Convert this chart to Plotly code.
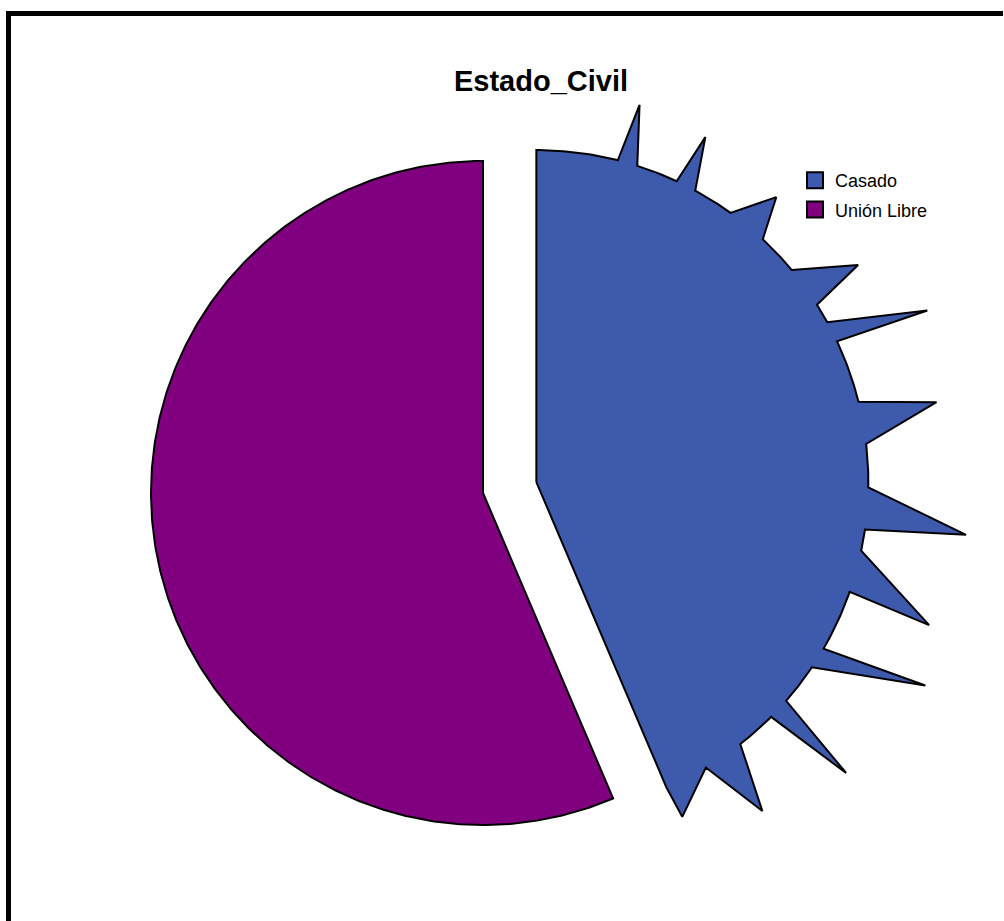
import numpy as np
import plotly.graph_objects as go

# ---- data ----
categories = ["Casado", "Unión Libre"]
counts = [17, 22]
colors = ["#3E5AAC", "#800080"]
title_text = "Estado_Civil"

# ---- style: exploded slice and its jagged edge (decoration) ----
explode = [0.164, 0.0]
# (arc angle before spike, tip angle, tip radius, arc angle after spike) in degrees
spikes = [
    (14.2, 15.3, 1.178, 17.7),
    (25.0, 26.1, 1.157, 28.6),
    (35.8, 40.1, 1.122, 43.0),
    (50.3, 56.0, 1.169, 57.7),
    (61.2, 66.3, 1.286, 64.9),
    (76.0, 78.7, 1.229, 83.4),
    (90.9, 97.0, 1.304, 98.2),
    (101.9, 110.0, 1.259, 109.3),
    (120.1, 117.6, 1.322, 123.9),
    (131.2, 133.2, 1.280, 135.0),
    (142.1, 145.5, 1.202, 149.3),
    (149.3, 156.45, 1.100, None),
]

W, H = 1004, 921
unit = 332.0           # pixels per pie radius
cxp, cyp = 483.0, 493.0  # pixel position of pie centre

total = float(sum(counts))
fracs = [c / total for c in counts]
starts = np.cumsum([0] + fracs[:-1]) * 360.0
ends = np.cumsum(fracs) * 360.0


def pol(cx, cy, ang, r):
    a = np.radians(ang)
    return cx + r * np.sin(a), cy + r * np.cos(a)


def arc(cx, cy, a0, a1, r=1.0):
    n = max(2, int(abs(a1 - a0) / 0.5) + 1)
    angs = np.linspace(a0, a1, n)
    x, y = pol(cx, cy, angs, r)
    return list(x), list(y)


fig = go.Figure()

for i in [1, 0]:
    a0, a1 = starts[i], ends[i]
    mid = 0.5 * (a0 + a1)
    cx, cy = pol(0.0, 0.0, mid, explode[i])
    xs, ys = [cx], [cy]
    if i == 0:
        cur = a0
        for (b, t, rt, c) in spikes:
            ax, ay = arc(cx, cy, cur, b)
            xs += ax
            ys += ay
            tx, ty = pol(cx, cy, t, rt)
            xs.append(tx)
            ys.append(ty)
            cur = a1 if c is None else c
        ax, ay = arc(cx, cy, cur, a1)
        xs += ax
        ys += ay
    else:
        ax, ay = arc(cx, cy, a0, a1)
        xs += ax
        ys += ay
    xs.append(cx)
    ys.append(cy)
    fig.add_trace(go.Scatter(
        x=xs, y=ys, mode="lines", fill="toself",
        fillcolor=colors[i], line=dict(color="black", width=2),
        showlegend=False, hoverinfo="text",
        text=f"{categories[i]}: {counts[i]}", name=categories[i],
    ))

# legend entries
for i, cat in enumerate(categories):
    fig.add_trace(go.Scatter(
        x=[None], y=[None], mode="markers", name=cat, legendgroup=cat,
        marker=dict(symbol="square", size=16, color=colors[i],
                    line=dict(color="black", width=2)),
    ))

fig.update_layout(
    width=W, height=H,
    margin=dict(l=0, r=0, t=0, b=0),
    paper_bgcolor="white", plot_bgcolor="white",
    xaxis=dict(range=[-cxp / unit, (W - cxp) / unit], visible=False, fixedrange=True),
    yaxis=dict(range=[-(H - cyp) / unit, cyp / unit], visible=False, fixedrange=True),
    title=dict(text=f"<b>{title_text}</b>", x=541 / W, xanchor="center",
               y=1 - 81 / H, yanchor="middle",
               font=dict(family="Liberation Sans, Arial", size=29, color="black")),
    legend=dict(x=795 / W, xanchor="left", y=1 - 162 / H, yanchor="top",
                font=dict(family="Liberation Sans, Arial", size=18, color="black"),
                bgcolor="rgba(0,0,0,0)", tracegroupgap=3),
    font=dict(family="Liberation Sans, Arial"),
    shapes=[
        dict(type="line", xref="paper", yref="paper", x0=8 / W, x1=1003 / W,
             y0=1 - 13.5 / H, y1=1 - 13.5 / H, line=dict(color="black", width=5)),
        dict(type="line", xref="paper", yref="paper", x0=8.5 / W, x1=8.5 / W,
             y0=1 - 11 / H, y1=0, line=dict(color="black", width=5)),
    ],
)

fig.write_html("out.html", config={"displayModeBar": False},
               post_script="document.body.style.margin='0';")
